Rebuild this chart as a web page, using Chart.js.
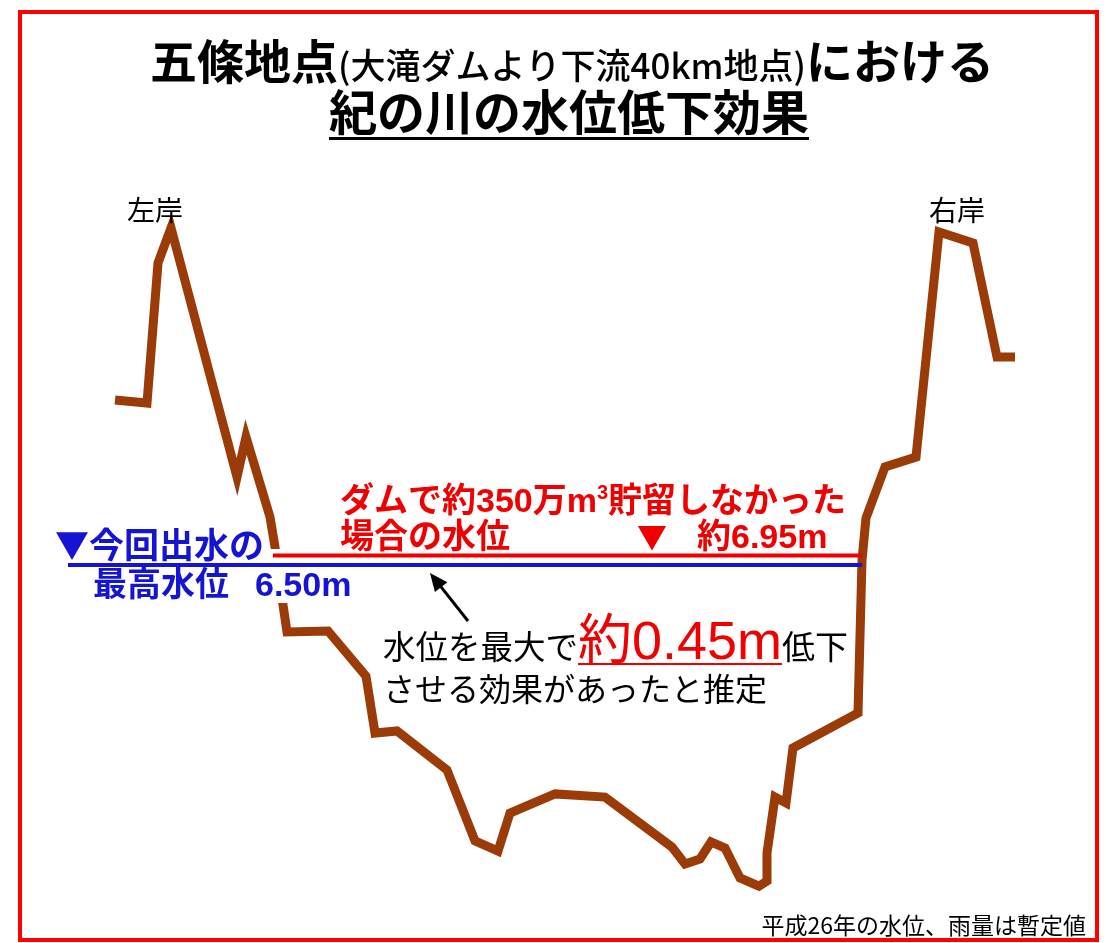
<!DOCTYPE html>
<html><head><meta charset="utf-8">
<script src="https://cdn.jsdelivr.net/npm/chart.js@4.4.1/dist/chart.umd.min.js"></script>
<style>html,body{margin:0;padding:0;background:#fff;}#wrap{width:1106px;height:943px;}</style>
</head><body><div id="wrap"><canvas id="c" width="1106" height="943"></canvas></div>
<script>
// Cross-section of the river bed (distance, elevation) – schematic values
const profileX = [-0.25, 7.75, 10.5, 13.75, 30.25, 32.5, 38.5, 39.75, 41.75, 42.75, 53, 62.5, 64.75, 70.25, 82.75, 89.75, 95.5, 98.5, 109.75, 122.25, 139, 142.25, 146, 148.75, 152.25, 156, 160.75, 162.75, 162.75, 164.75, 167.5, 169.25, 185.5, 186.5, 187.5, 192.25, 200, 205.75, 214.25, 220.25, 224.75];
const profileY = [14.36, 14.21, 20.88, 22.55, 10.69, 12.60, 8.79, 7.36, 4.60, 3.31, 3.36, 1.21, -1.50, -1.40, -3.26, -6.64, -7.12, -5.31, -4.40, -4.55, -6.93, -7.74, -7.50, -6.69, -6.98, -8.40, -8.79, -8.55, -7.21, -4.55, -4.83, -2.21, -0.55, 6.74, 8.74, 11.17, 11.64, 22.36, 21.83, 16.40, 16.40];
// Water levels (m)
const observedLevel = 6.50;   // 今回出水の最高水位
const noDamLevel = 6.95;      // ダムで貯留しなかった場合の水位
const observedSpanX = [-12, 186.5];
const noDamSpanX = [39.25, 186.5];
// Axis ranges (hidden)
const axisXRange = [-29, 247.5];
const axisYRange = [-11.5, 33.405];

const JP = "'Noto Sans CJK JP'";
const LAT = "'Liberation Sans', 'Noto Sans CJK JP'";

function runs(ctx, parts, x, y, align) {
  let total = 0;
  parts.forEach(p => { ctx.font = p.font; p.w = ctx.measureText(p.t).width; total += p.w; });
  let cx = align === 'center' ? x - total / 2 : (align === 'right' ? x - total : x);
  const spans = [];
  parts.forEach(p => {
    ctx.font = p.font; ctx.fillStyle = p.color || '#000';
    ctx.textAlign = 'left'; ctx.textBaseline = 'alphabetic';
    ctx.fillText(p.t, cx, y + (p.dy || 0));
    spans.push([cx, cx + p.w]);
    cx += p.w;
  });
  return spans;
}

const deco = {
  id: 'deco',
  afterDatasetDraw(chart, args) {
    if (args.index !== 2) return;
    const ctx = chart.ctx;
    ctx.save();
    ctx.fillStyle = '#fff';
    ctx.fillRect(50, 549, 250, 54);
    ctx.restore();
  },
  afterDraw(chart) {
    const ctx = chart.ctx;
    ctx.save();
    // frame
    ctx.strokeStyle = '#ff0000'; ctx.lineWidth = 4;
    ctx.strokeRect(20, 12, 1077, 928);
    // title
    runs(ctx, [
      {t: '五條地点', font: `bold 47px ${JP}`},
      {t: '(大滝ダムより下流40km地点)', font: `500 35px ${JP}`},
      {t: 'における', font: `bold 47px ${JP}`}
    ], 572, 79, 'center');
    const s2 = runs(ctx, [{t: '紀の川の水位低下効果', font: `bold 48px ${JP}`}], 569, 130, 'center');
    ctx.fillStyle = '#000';
    ctx.fillRect(s2[0][0], 137, s2[0][1] - s2[0][0], 3);
    // banks
    runs(ctx, [{t: '左岸', font: `28px ${JP}`}], 155, 221, 'center');
    runs(ctx, [{t: '右岸', font: `28px ${JP}`}], 957, 221, 'center');
    // red annotation
    const red = '#f00000';
    runs(ctx, [
      {t: 'ダムで約350万m', font: `bold 34px ${LAT}`, color: red},
      {t: '3', font: `bold 20px ${LAT}`, color: red, dy: -13},
      {t: '貯留しなかった', font: `bold 34px ${LAT}`, color: red}
    ], 340, 512, 'left');
    runs(ctx, [{t: '場合の水位', font: `bold 34px ${LAT}`, color: red}], 340, 548, 'left');
    runs(ctx, [{t: '▼', font: `bold 30px ${JP}`, color: red}], 637, 548, 'left');
    runs(ctx, [{t: '約6.95m', font: `bold 34px ${LAT}`, color: red}], 697, 548, 'left');
    // blue annotation
    const blue = '#1414d2';
    runs(ctx, [
      {t: '▼', font: `bold 34px ${JP}`, color: blue},
      {t: '今回出水の', font: `bold 35px ${LAT}`, color: blue}
    ], 55, 558, 'left');
    runs(ctx, [{t: '最高水位', font: `bold 34px ${LAT}`, color: blue}], 93, 596, 'left');
    runs(ctx, [{t: '6.50m', font: `bold 34px ${LAT}`, color: blue}], 255, 596, 'left');
    // black annotation
    const sp = runs(ctx, [
      {t: '水位を最大で', font: `32.5px ${JP}`},
      {t: '約0.45m', font: `54px ${LAT}`, color: red},
      {t: '低下', font: `33px ${JP}`}
    ], 383, 659, 'left');
    ctx.fillStyle = red;
    ctx.fillRect(sp[1][0], 663, sp[1][1] - sp[1][0], 2);
    runs(ctx, [{t: 'させる効果があったと推定', font: `32px ${JP}`}], 383, 701, 'left');
    // arrow
    ctx.strokeStyle = '#000'; ctx.lineWidth = 3;
    const x1 = 468, y1 = 621, x2 = 430, y2 = 573;
    const ang = Math.atan2(y2 - y1, x2 - x1);
    ctx.beginPath(); ctx.moveTo(x1, y1);
    ctx.lineTo(x2 - 12 * Math.cos(ang), y2 - 12 * Math.sin(ang)); ctx.stroke();
    ctx.fillStyle = '#000';
    ctx.beginPath();
    ctx.moveTo(x2, y2);
    ctx.lineTo(x2 - 18 * Math.cos(ang) + 8 * Math.sin(ang), y2 - 18 * Math.sin(ang) - 8 * Math.cos(ang));
    ctx.lineTo(x2 - 18 * Math.cos(ang) - 8 * Math.sin(ang), y2 - 18 * Math.sin(ang) + 8 * Math.cos(ang));
    ctx.closePath(); ctx.fill();
    // footnote
    runs(ctx, [{t: '平成26年の水位、雨量は暫定値', font: `23px ${JP}`}], 1086, 934, 'right');
    ctx.restore();
  }
};

new Chart(document.getElementById('c'), {
  type: 'line',
  data: {
    datasets: [
      {label: 'ダムなし水位', data: noDamSpanX.map(x => ({x, y: noDamLevel})), borderColor: '#f00000', borderWidth: 4, pointRadius: 0, borderCapStyle: 'butt'},
      {label: '今回出水の最高水位', data: observedSpanX.map(x => ({x, y: observedLevel})), borderColor: '#1414d2', borderWidth: 4, pointRadius: 0, borderCapStyle: 'butt'},
      {label: '河床', data: profileX.map((x, i) => ({x, y: profileY[i]})), borderColor: '#9a3b08', borderWidth: 9, pointRadius: 0, tension: 0, borderJoinStyle: 'miter', borderCapStyle: 'butt'}
    ]
  },
  options: {
    responsive: false, animation: false, devicePixelRatio: 1,
    layout: {padding: 0},
    plugins: {legend: {display: false}, tooltip: {enabled: false}, title: {display: false}},
    scales: {
      x: {type: 'linear', min: axisXRange[0], max: axisXRange[1], display: false},
      y: {type: 'linear', min: axisYRange[0], max: axisYRange[1], display: false}
    }
  },
  plugins: [deco]
});
</script></body></html>
